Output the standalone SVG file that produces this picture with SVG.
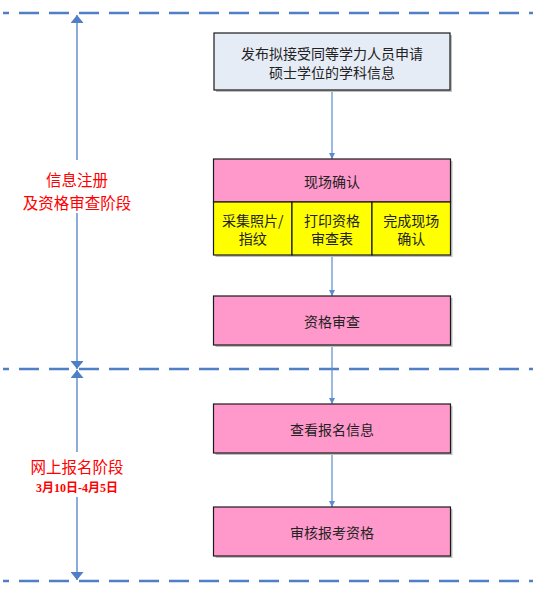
<svg xmlns="http://www.w3.org/2000/svg" width="536" height="597" viewBox="0 0 536 597">
<style>
.dash{stroke:#4F7FC4;stroke-width:2.5;stroke-dasharray:20 10;stroke-dashoffset:14;fill:none}
.vline{stroke:#4F7FC4;stroke-width:1.3;fill:none}
.conn{stroke:#5B8BD0;stroke-width:1.2;fill:none}
.box{stroke:#1a1a1a;stroke-width:1.2}
.shadow{fill:#bfbfbf}
.pink{fill:#FF99CC}
.yellow{fill:#FFFF00}
.blue{fill:#E6ECF6}
.t{font-family:"Noto Sans CJK SC","Liberation Sans",sans-serif;font-size:14px;fill:#222;text-anchor:middle;dominant-baseline:central}
.side{font-family:"Noto Sans CJK SC","Liberation Sans",sans-serif;font-size:15.5px;fill:#FF0000;text-anchor:middle;dominant-baseline:central}
.date{font-family:"Liberation Serif","Noto Sans CJK SC",serif;font-size:12px;font-weight:bold;fill:#FF0000;text-anchor:middle;dominant-baseline:central}
</style>
<defs>
<marker id="big" viewBox="0 0 8 13" refX="8" refY="6.5" markerWidth="8" markerHeight="13" markerUnits="userSpaceOnUse" orient="auto">
<path d="M0,0 L8,6.5 L0,13 z" fill="#4F7FC4"/>
</marker>
<marker id="small" viewBox="0 0 6 6" refX="6" refY="3" markerWidth="6" markerHeight="6" markerUnits="userSpaceOnUse" orient="auto">
<path d="M0,0 L6,3 L0,6 z" fill="#5B8BD0"/>
</marker>
</defs>

<g id="phase-lines">
<line class="dash" x1="3" y1="13" x2="533" y2="13"/>
<line class="dash" x1="3" y1="369" x2="533" y2="369"/>
<line class="dash" x1="3" y1="581" x2="533" y2="581"/>
</g>

<g id="phase-arrows">
<line class="vline" x1="77" y1="160" x2="77" y2="15" marker-end="url(#big)"/>
<line class="vline" x1="77" y1="213" x2="77" y2="369" marker-end="url(#big)"/>
<line class="vline" x1="77" y1="452" x2="77" y2="370" marker-end="url(#big)"/>
<line class="vline" x1="77" y1="497" x2="77" y2="580" marker-end="url(#big)"/>
</g>

<g id="phase1-label">
<text class="side" x="77" y="178.5">信息注册</text>
<text class="side" x="77" y="202">及资格审查阶段</text>
</g>
<g id="phase2-label">
<text class="side" x="77" y="466">网上报名阶段</text>
<text class="date" x="77" y="487.5">3月10日-4月5日</text>
</g>

<g id="connectors">
<line class="conn" x1="332" y1="90" x2="332" y2="159" marker-end="url(#small)"/>
<line class="conn" x1="332" y1="255" x2="332" y2="296" marker-end="url(#small)"/>
<line class="conn" x1="332" y1="345" x2="332" y2="404" marker-end="url(#small)"/>
<line class="conn" x1="332" y1="453" x2="332" y2="507" marker-end="url(#small)"/>
</g>

<g id="node-publish">
<rect class="shadow" x="216" y="35" width="236" height="57"/>
<rect class="box blue" x="214" y="33" width="236" height="57"/>
<text class="t" x="332" y="53">发布拟接受同等学力人员申请</text>
<text class="t" x="332" y="71.5">硕士学位的学科信息</text>
</g>

<g id="node-onsite">
<rect class="shadow" x="215.5" y="161" width="237" height="96"/>
<rect class="box pink" x="213.5" y="159" width="237" height="43"/>
<text class="t" x="332" y="180.5">现场确认</text>
</g>
<g id="node-photo">
<rect class="box yellow" x="213.5" y="202" width="78.5" height="53"/>
<text class="t" x="252.75" y="219.5">采集照片/</text>
<text class="t" x="252.75" y="238">指纹</text>
</g>
<g id="node-print">
<rect class="box yellow" x="292" y="202" width="80" height="53"/>
<text class="t" x="332" y="219.5">打印资格</text>
<text class="t" x="332" y="238">审查表</text>
</g>
<g id="node-complete">
<rect class="box yellow" x="372" y="202" width="78.5" height="53"/>
<text class="t" x="411.25" y="219.5">完成现场</text>
<text class="t" x="411.25" y="238">确认</text>
</g>

<g id="node-review">
<rect class="shadow" x="215.5" y="298" width="237" height="49"/>
<rect class="box pink" x="213.5" y="296" width="237" height="49"/>
<text class="t" x="332" y="320.5">资格审查</text>
</g>

<g id="node-view">
<rect class="shadow" x="215.5" y="406" width="237" height="49"/>
<rect class="box pink" x="213.5" y="404" width="237" height="49"/>
<text class="t" x="332" y="428.5">查看报名信息</text>
</g>

<g id="node-verify">
<rect class="shadow" x="215.5" y="509" width="237" height="49"/>
<rect class="box pink" x="213.5" y="507" width="237" height="49"/>
<text class="t" x="332" y="531.5">审核报考资格</text>
</g>
</svg>
